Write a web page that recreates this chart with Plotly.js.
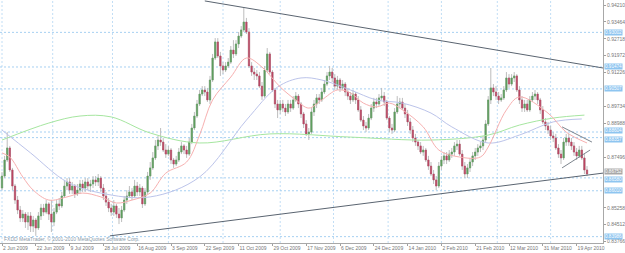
<!DOCTYPE html>
<html><head><meta charset="utf-8">
<script src="https://cdn.plot.ly/plotly-3.0.1.min.js"></script>
<style>html,body{margin:0;padding:0;background:#fff;}#chart{width:625px;height:253px;}</style>
</head><body><div id="chart"></div>
<script>
// EURGBP daily, 2 Jun 2009 - 22 Apr 2010 (bar index = trading day)
const openArr = [.8613,
.8666,.8737,.8790,.8693,.8622,.8560,.8516,.8481,.8498,.8463,.8490,.8445,.8472,.8437,.8490,.8525,.8507,.8543,.8498,.8463,.8507,
.8543,.8534,.8578,.8622,.8640,.8604,.8622,.8587,.8604,.8631,.8613,.8640,.8622,.8631,.8649,.8640,.8657,.8613,.8578,.8551,
.8525,.8507,.8534,.8498,.8481,.8516,.8560,.8578,.8596,.8578,.8622,.8596,.8613,.8543,.8596,.8666,.8702,.8746,.8799,.8825,
.8816,.8781,.8763,.8781,.8737,.8719,.8737,.8772,.8799,.8781,.8763,.8816,.8878,.8931,.8984,.9028,.9046,.9037,.9002,.9090,
.9187,.9258,.9196,.9152,.9134,.9152,.9169,.9222,.9205,.9249,.9284,.9311,.9346,.9302,.9152,.9125,.9116,.9108,.9063,.9019,
.9134,.9205,.9125,.9046,.8984,.8958,.8984,.8966,.8949,.8984,.8966,.9002,.9019,.8984,.8940,.8896,.8852,.8860,.8949,.8984,
.9011,.9002,.9037,.9072,.9108,.9125,.9099,.9063,.9090,.9055,.9072,.9037,.9019,.9002,.9028,.9002,.8958,.8913,.8887,.8878,
.8922,.8966,.8993,.8984,.9011,.9019,.8993,.8922,.8878,.8869,.8949,.8984,.8993,.8966,.8940,.8905,.8869,.8834,.8816,.8799,
.8772,.8781,.8737,.8710,.8675,.8649,.8622,.8710,.8737,.8755,.8737,.8763,.8772,.8799,.8807,.8763,.8710,.8675,.8702,.8728,
.8755,.8772,.8790,.8799,.8825,.8896,.9002,.9055,.9037,.9019,.9002,.9011,.9046,.9099,.9072,.9099,.9108,.9046,.9002,.8966,
.8984,.8958,.9002,.9019,.9028,.9002,.8958,.8905,.8887,.8869,.8843,.8834,.8790,.8763,.8746,.8816,.8834,.8816,.8799,.8772,.8755,.8781,.8746,.8693];
const closeArr = [
.8666,.8737,.8790,.8693,.8622,.8560,.8516,.8481,.8498,.8463,.8490,.8445,.8472,.8437,.8490,.8525,.8507,.8543,.8498,.8463,.8507,
.8543,.8534,.8578,.8622,.8640,.8604,.8622,.8587,.8604,.8631,.8613,.8640,.8622,.8631,.8649,.8640,.8657,.8613,.8578,.8551,
.8525,.8507,.8534,.8498,.8481,.8516,.8560,.8578,.8596,.8578,.8622,.8596,.8613,.8543,.8596,.8666,.8702,.8746,.8799,.8825,
.8816,.8781,.8763,.8781,.8737,.8719,.8737,.8772,.8799,.8781,.8763,.8816,.8878,.8931,.8984,.9028,.9046,.9037,.9002,.9090,
.9187,.9258,.9196,.9152,.9134,.9152,.9169,.9222,.9205,.9249,.9284,.9311,.9346,.9302,.9152,.9125,.9116,.9108,.9063,.9019,
.9134,.9205,.9125,.9046,.8984,.8958,.8984,.8966,.8949,.8984,.8966,.9002,.9019,.8984,.8940,.8896,.8852,.8860,.8949,.8984,
.9011,.9002,.9037,.9072,.9108,.9125,.9099,.9063,.9090,.9055,.9072,.9037,.9019,.9002,.9028,.9002,.8958,.8913,.8887,.8878,
.8922,.8966,.8993,.8984,.9011,.9019,.8993,.8922,.8878,.8869,.8949,.8984,.8993,.8966,.8940,.8905,.8869,.8834,.8816,.8799,
.8772,.8781,.8737,.8710,.8675,.8649,.8622,.8710,.8737,.8755,.8737,.8763,.8772,.8799,.8807,.8763,.8710,.8675,.8702,.8728,
.8755,.8772,.8790,.8799,.8825,.8896,.9002,.9055,.9037,.9019,.9002,.9011,.9046,.9099,.9072,.9099,.9108,.9046,.9002,.8966,
.8984,.8958,.9002,.9019,.9028,.9002,.8958,.8905,.8887,.8869,.8843,.8834,.8790,.8763,.8746,.8816,.8834,.8816,.8799,.8772,.8755,.8781,.8746,.8693,.8675];
const highArr = [
.8684,.8755,.8860,.8799,.8702,.8631,.8578,.8534,.8516,.8507,.8507,.8507,.8490,.8481,.8507,.8543,.8543,.8560,.8551,.8560,.8525,
.8560,.8569,.8596,.8649,.8657,.8657,.8640,.8631,.8631,.8649,.8649,.8657,.8657,.8649,.8666,.8666,.8675,.8666,.8631,.8596,
.8569,.8543,.8560,.8543,.8525,.8534,.8578,.8604,.8622,.8613,.8649,.8640,.8631,.8622,.8613,.8684,.8728,.8772,.8825,.8843,
.8878,.8834,.8807,.8799,.8790,.8746,.8755,.8790,.8816,.8807,.8799,.8834,.8896,.8949,.9002,.9046,.9063,.9063,.9055,.9108,
.9205,.9275,.9275,.9214,.9169,.9169,.9187,.9240,.9266,.9266,.9302,.9328,.9408,.9364,.9319,.9169,.9143,.9134,.9125,.9081,
.9152,.9231,.9214,.9134,.9055,.9002,.9002,.9002,.8984,.9002,.9002,.9019,.9037,.9028,.8993,.8949,.8913,.8878,.8966,.9002,
.9028,.9028,.9055,.9090,.9125,.9152,.9143,.9116,.9108,.9099,.9090,.9081,.9055,.9037,.9046,.9037,.9019,.8975,.8931,.8905,
.8940,.8984,.9011,.9011,.9028,.9055,.9037,.9002,.8931,.8896,.8966,.9019,.9011,.9011,.8984,.8958,.8922,.8887,.8852,.8825,
.8816,.8799,.8790,.8755,.8728,.8693,.8666,.8728,.8755,.8772,.8772,.8781,.8790,.8816,.8825,.8825,.8781,.8728,.8719,.8746,
.8772,.8790,.8807,.8816,.8843,.8913,.9019,.9143,.9072,.9063,.9037,.9028,.9063,.9125,.9116,.9116,.9125,.9116,.9063,.9019,
.9002,.9002,.9019,.9037,.9046,.9037,.9011,.8975,.8922,.8905,.8887,.8860,.8852,.8807,.8781,.8834,.8852,.8852,.8834,.8816,.8790,.8799,.8799,.8763,.8710];
const lowArr = [
.8604,.8657,.8728,.8684,.8604,.8543,.8498,.8463,.8463,.8437,.8428,.8419,.8419,.8402,.8428,.8472,.8490,.8498,.8472,.8419,.8445,
.8498,.8516,.8525,.8569,.8604,.8587,.8587,.8569,.8578,.8587,.8596,.8596,.8604,.8596,.8613,.8622,.8622,.8596,.8560,.8534,
.8507,.8490,.8490,.8481,.8454,.8463,.8507,.8543,.8569,.8560,.8569,.8578,.8578,.8525,.8534,.8587,.8649,.8693,.8737,.8781,
.8799,.8772,.8746,.8755,.8719,.8702,.8710,.8728,.8763,.8763,.8746,.8755,.8807,.8869,.8922,.8975,.9019,.9019,.8993,.8984,
.9081,.9178,.9187,.9108,.9116,.9125,.9143,.9161,.9187,.9196,.9231,.9275,.9302,.9293,.9143,.9108,.9090,.9090,.9055,.9002,
.9011,.9125,.9116,.9037,.8966,.8922,.8940,.8949,.8931,.8940,.8949,.8958,.8993,.8966,.8922,.8878,.8843,.8825,.8852,.8931,
.8966,.8984,.8993,.9028,.9063,.9090,.9081,.9046,.9046,.9037,.9046,.9019,.9002,.8984,.8993,.8984,.8949,.8905,.8869,.8860,
.8869,.8913,.8949,.8966,.8975,.9002,.8975,.8913,.8860,.8852,.8860,.8940,.8966,.8958,.8922,.8887,.8852,.8816,.8799,.8781,
.8763,.8755,.8728,.8693,.8666,.8631,.8604,.8613,.8693,.8719,.8719,.8728,.8746,.8755,.8781,.8755,.8693,.8657,.8657,.8684,
.8710,.8737,.8755,.8772,.8781,.8816,.8887,.8984,.9019,.9002,.8984,.8993,.9002,.9037,.9055,.9063,.9081,.9037,.8984,.8949,
.8949,.8949,.8949,.8993,.9002,.8984,.8940,.8896,.8869,.8852,.8825,.8816,.8781,.8746,.8719,.8737,.8799,.8799,.8781,.8755,.8737,.8746,.8737,.8675,.8666];

// moving averages (read at sample bars)
const maFastBar = [0,3,8,12,18,25,31,38,44,50,57,63,71,76,81,88,94,100,107,113,118,123,129,134,139,144,149,154,162,168,176,184,187,194,199,210,217,225];
const maFastVal = [.8768,.8750,.8662,.8604,.8560,.8574,.8591,.8574,.8547,.8560,.8591,.8679,.8728,.8847,.9002,.9103,.9187,.9147,.9059,.9002,.8966,.9002,.9046,.9033,.8988,.8971,.8988,.8958,.8883,.8781,.8750,.8750,.8794,.8958,.9015,.8944,.8860,.8812];
const maMidBar = [0,11,25,38,57,76,94,106,115,123,134,144,154,165,173,187,199,212,223];
const maMidVal = [.8869,.8768,.8640,.8591,.8574,.8662,.8913,.9059,.9099,.9090,.9046,.9002,.8988,.8944,.8883,.8812,.8847,.8905,.8918];
const maSlowBar = [0,18,30,42,57,76,103,134,165,187,199,212,224];
const maSlowVal = [.8825,.8900,.8931,.8927,.8856,.8812,.8852,.8838,.8825,.8847,.8891,.8922,.8935];

// trend lines (bar, price anchors)
const trendUpperBar = [78, 231.15], trendUpperPrice = [0.9439, 0.9143];
const trendLowerBar = [41.5, 231.15], trendLowerPrice = [0.8402, 0.8679];
const wedgeUpperBar = [215.4, 226.9], wedgeUpperPrice = [0.8883, 0.8816];
const wedgeLowerBar = [215.4, 226.2], wedgeLowerPrice = [0.8702, 0.8781];

// horizontal price levels and bid
const levelPrices = [0.93002, 0.91474, 0.90507, 0.88604, 0.88357, 0.86580, 0.86010, 0.83986];
const bidPrice = 0.86752;

// month separators (bar index of first trading day)
const monthStartBars = [0, 19.5, 42.5, 64, 85, 107, 127.5, 148.5, 169, 190.5, 211];

// axis labels (price labels hidden under level boxes are left out)
const dateTickBars = [0,13,26,39,52,65,78,91,104,117,130,143,156,169,182,195,208,221];
const dateTickText = ["2 Jun 2009","22 Jun 2009","9 Jul 2009","28 Jul 2009","16 Aug 2009","3 Sep 2009","22 Sep 2009","11 Oct 2009","29 Oct 2009","17 Nov 2009","6 Dec 2009","24 Dec 2009","14 Jan 2010","2 Feb 2010","21 Feb 2010","12 Mar 2010","31 Mar 2010","19 Apr 2010"];
const priceTicks = [0.94210,0.93464,0.92718,0.91972,0.91226,0.89734,0.88988,0.87496,0.85258,0.84512,0.83766];

const bars = closeArr.map((_, i) => i);
const bodyHigh = closeArr.map((c, i) => Math.max(c, openArr[i]));
const bodyLow = closeArr.map((c, i) => Math.min(c, openArr[i]));

const wickCol = '#bdbdbd';
const data = [
  {type:'scatter', mode:'lines', x: maSlowBar, y: maSlowVal, line:{color:'#a6e6a0', width:1, shape:'spline'}, hoverinfo:'skip'},
  {type:'scatter', mode:'lines', x: maMidBar, y: maMidVal, line:{color:'#bcc4ea', width:1, shape:'spline'}, hoverinfo:'skip'},
  {type:'scatter', mode:'lines', x: maFastBar, y: maFastVal, line:{color:'#f7b0b0', width:1, shape:'spline'}, hoverinfo:'skip'},
  {type:'candlestick', x: bars, open: openArr, high: highArr, low: lowArr, close: closeArr,
   increasing:{line:{color:wickCol, width:1}, fillcolor:wickCol},
   decreasing:{line:{color:wickCol, width:1}, fillcolor:wickCol}, whiskerwidth:0, hoverinfo:'skip'},
  {type:'candlestick', x: bars, open: openArr, high: bodyHigh, low: bodyLow, close: closeArr,
   increasing:{line:{color:'#5f9e5f', width:0.5}, fillcolor:'#5f9e5f'},
   decreasing:{line:{color:'#bb4662', width:0.5}, fillcolor:'#bb4662'}, whiskerwidth:0, hoverinfo:'skip'},
  {type:'scatter', mode:'lines', x: trendUpperBar, y: trendUpperPrice, line:{color:'#5a6470', width:1}, hoverinfo:'skip'},
  {type:'scatter', mode:'lines', x: trendLowerBar, y: trendLowerPrice, line:{color:'#5a6470', width:1}, hoverinfo:'skip'},
  {type:'scatter', mode:'lines', x: wedgeUpperBar, y: wedgeUpperPrice, line:{color:'#5a6470', width:0.8}, hoverinfo:'skip'},
  {type:'scatter', mode:'lines', x: wedgeLowerBar, y: wedgeLowerPrice, line:{color:'#5a6470', width:0.8}, hoverinfo:'skip'}
];

const shapes = [];
monthStartBars.forEach(b => shapes.push({type:'line', layer:'below', xref:'x', yref:'paper', x0:b, x1:b, y0:0, y1:1, line:{color:'#c2def5', width:1, dash:'2px,2px'}}));
levelPrices.forEach(p => shapes.push({type:'line', layer:'below', xref:'paper', yref:'y', x0:0, x1:1, y0:p, y1:p, line:{color:'#a6d0f2', width:1, dash:'2px,2px'}}));

// small vertical nudges so that adjoining price boxes do not overlap
const boxShift = {'0.88604':1.5, '0.88357':-1.5, '0.86580':-2};
const annotations = [];
levelPrices.forEach(p => annotations.push({xref:'paper', yref:'y', x:1, y:p, xanchor:'left', yanchor:'middle', xshift:1, yshift: boxShift[p.toFixed(5)] || 0, text:p.toFixed(5), showarrow:false, font:{family:'Liberation Sans', size:4.6, color:'#ffffff'}, bgcolor:'#8ec5f0', borderpad:0}));
annotations.push({xref:'paper', yref:'y', x:1, y:bidPrice, xanchor:'left', yanchor:'middle', xshift:1, yshift:2, text:bidPrice.toFixed(5), showarrow:false, font:{family:'Liberation Sans', size:4.6, color:'#ffffff'}, bgcolor:'#a8a8a8', borderpad:0});
annotations.push({xref:'paper', yref:'paper', x:0.004, y:0.016, xanchor:'left', yanchor:'middle', text:'FXDD MetaTrader, © 2001-2010 MetaQuotes Software Corp.', showarrow:false, font:{family:'Liberation Sans', size:5, color:'#8a9aaa'}});

const layout = {
  width:625, height:253,
  margin:{l:0, r:22, t:0, b:10, pad:0},
  paper_bgcolor:'#ffffff', plot_bgcolor:'#ffffff',
  showlegend:false,
  font:{family:'Liberation Sans', size:5, color:'#777777'},
  xaxis:{range:[-0.77, 231.15], tickmode:'array', tickvals:dateTickBars, ticktext:dateTickText,
    tickangle:0, automargin:false,
    ticklabelposition:'outside right', ticks:'outside', ticklen:2, tickcolor:'#a0a0a0',
    tickfont:{family:'Liberation Sans', size:5, color:'#777777'},
    showgrid:false, zeroline:false, showline:true, linecolor:'#a8a8a8', linewidth:1,
    rangeslider:{visible:false}, fixedrange:true},
  yaxis:{range:[0.83705, 0.94431], side:'right', tickmode:'array', tickvals:priceTicks,
    ticktext:priceTicks.map(v => v.toFixed(5)), ticks:'outside', ticklen:2, tickcolor:'#a0a0a0',
    automargin:false,
    tickfont:{family:'Liberation Sans', size:5, color:'#777777'},
    showgrid:false, zeroline:false, showline:true, linecolor:'#a8a8a8', linewidth:1, fixedrange:true},
  shapes: shapes,
  annotations: annotations
};

Plotly.newPlot('chart', data, layout, {staticPlot:true, displayModeBar:false});
</script>
</body></html>
